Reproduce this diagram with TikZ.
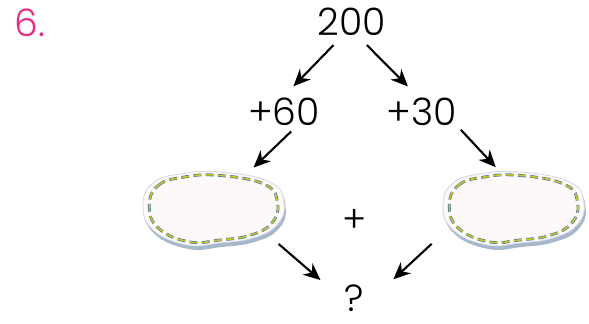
\documentclass[tikz,border=0pt]{standalone}
\usepackage{fontspec}
\setmainfont{Poppins}[UprightFont=* Light]
\usetikzlibrary{arrows.meta,shapes.geometric}
\definecolor{numpink}{RGB}{232,45,128}
\definecolor{beanfill}{RGB}{253,248,250}
\definecolor{beanshadow}{RGB}{168,184,204}
\definecolor{dashyellow}{RGB}{196,202,36}
\definecolor{dashblue}{RGB}{70,110,165}
\tikzset{
  num/.style={font=\fontsize{21.5}{25}\selectfont, inner sep=1pt},
  arr/.style={-{Stealth[length=0.34cm,width=0.3cm]}, line width=1.2pt},
  bean/.style={ellipse, minimum width=2.8cm, minimum height=1.5cm, inner sep=0pt},
}
\begin{document}
\begin{tikzpicture}
    \useasboundingbox (0,0) rectangle (11.78,6.46);

    % the two beans
    \foreach \x in {4.26,10.26} {
        \fill[beanshadow, shift={(\x+0.03,2.18)}] plot[smooth cycle, tension=0.75] coordinates
            {(-1.4,0.1) (-1.2,0.54) (-0.66,0.72) (0.14,0.76) (1.14,0.56) (1.42,0.14) (1.28,-0.3) (0.8,-0.56) (0.14,-0.66) (-0.52,-0.7) (-1.2,-0.4)};
        \fill[beanfill, draw=beanshadow!60, shift={(\x,2.26)}] plot[smooth cycle, tension=0.75] coordinates
            {(-1.4,0.1) (-1.2,0.54) (-0.66,0.72) (0.14,0.76) (1.14,0.56) (1.42,0.14) (1.28,-0.3) (0.8,-0.56) (0.14,-0.66) (-0.52,-0.7) (-1.2,-0.4)};
        \draw[dashblue, line width=1.6pt, dash pattern=on 4.5pt off 2.5pt, shift={(\x,2.26)}, scale=0.91] plot[smooth cycle, tension=0.75] coordinates
            {(-1.4,0.1) (-1.2,0.54) (-0.66,0.72) (0.14,0.76) (1.14,0.56) (1.42,0.14) (1.28,-0.3) (0.8,-0.56) (0.14,-0.66) (-0.52,-0.7) (-1.2,-0.4)};
        \draw[dashyellow, line width=0.9pt, dash pattern=on 4.5pt off 2.5pt, shift={(\x,2.26)}, scale=0.91] plot[smooth cycle, tension=0.75] coordinates
            {(-1.4,0.1) (-1.2,0.54) (-0.66,0.72) (0.14,0.76) (1.14,0.56) (1.42,0.14) (1.28,-0.3) (0.8,-0.56) (0.14,-0.66) (-0.52,-0.7) (-1.2,-0.4)};
    }
    \node[bean] (lbean) at (4.26,2.26) {};
    \node[bean] (rbean) at (10.26,2.26) {};

    \node[num, numpink] (six) at (0.6,6.0) {6.};
    \node[num] (n200) at (7.04,6.02) {200};
    \node[num] (p60) at (5.68,4.22) {+60};
    \node[num] (p30) at (8.44,4.22) {+30};
    \node[num, font=\fontsize{21}{24}\selectfont] (plus) at (7.10,2.04) {+};
    \node[num, inner sep=0pt, text depth=0pt] (ask) at (7.08,0.5) {?};

    \draw[arr, shorten <=0.2cm, shorten >=0.27cm] (n200.234) -- (p60.north);
    \draw[arr, shorten <=0.2cm, shorten >=0.27cm] (n200.296) -- (p30.106);
    \draw[arr, shorten <=0.1cm, shorten >=0.25cm] (p60.304) -- (lbean.47.6);
    \draw[arr, shorten <=0.05cm, shorten >=0.15cm] (p30.south east) -- (rbean.108.7);
    \draw[arr, shorten <=0.3cm, shorten >=0.62cm] (lbean.336.5) -- (ask.193);
    \draw[arr, shorten <=0.5cm, shorten >=0.8cm] (rbean.195.6) -- (ask.320);

\end{tikzpicture}
\end{document}
